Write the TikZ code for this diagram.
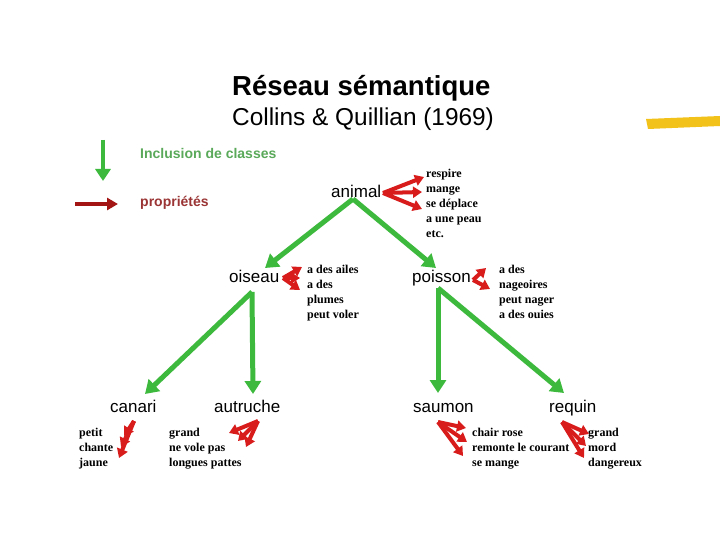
\documentclass[tikz,border=0pt]{standalone}
\usepackage{fontspec}
\setmainfont{Liberation Sans}
\newfontfamily\tnr{Liberation Serif}
\usetikzlibrary{arrows.meta}
\definecolor{grn}{HTML}{3DBA3D}
\definecolor{rd}{HTML}{D81C1C}
\definecolor{drd}{HTML}{A31414}
\definecolor{lgrn}{HTML}{5AA95A}
\definecolor{lrd}{HTML}{9B3535}
\definecolor{ylw}{HTML}{F3C21A}
\begin{document}
\begin{tikzpicture}[x=1pt,y=-1pt,
  garrow/.style={draw=grn, line width=5pt, -{Triangle[width=16pt,length=13pt]}},
  rarrow/.style={draw=rd, line width=4pt, -{Triangle[width=11pt,length=9pt]}},
  concept/.style={font=\fontsize{17}{17}\selectfont, inner sep=0pt, anchor=base west},
  prop/.style={font=\tnr\bfseries\fontsize{12}{12}\selectfont, inner sep=0pt, anchor=base west},
  legtext/.style={font=\bfseries\fontsize{14}{14}\selectfont, inner sep=0pt, anchor=west}]
\useasboundingbox[fill=white] (0,0) rectangle (720,540);

% title
\node[font=\bfseries\fontsize{27.5}{27.5}\selectfont, anchor=base west, inner sep=0pt] (title) at (232,96) {Réseau sémantique};
\node[font=\fontsize{24.4}{24.4}\selectfont, anchor=base west, inner sep=0pt] (subtitle) at (232,126) {Collins \& Quillian (1969)};

% yellow stroke
\fill[ylw] (646,119) -- (720,116) -- (720,126) -- (648,129) -- cycle;

% legend
\coordinate (lg1) at (103,140);
\coordinate (lg2) at (103,181);
\draw[draw=grn, line width=4.5pt, -{Triangle[width=15pt,length=12pt]}] (lg1) -- (lg2);
\node[legtext, text=lgrn] (inclusion) at (140,153) {Inclusion de classes};
\coordinate (lr1) at (75,204);
\coordinate (lr2) at (118,204);
\draw[draw=drd, line width=4pt, -{Triangle[width=12pt,length=11pt]}] (lr1) -- (lr2);
\node[legtext, text=lrd] (proprietes) at (140,203) {propriétés};

% concepts
\node[concept] (animal) at (331,197) {animal};
\node[concept] (oiseau) at (229,282) {oiseau};
\node[concept] (poisson) at (412,282) {poisson};
\node[concept] (canari) at (110,412) {canari};
\node[concept] (autruche) at (214,412) {autruche};
\node[concept] (saumon) at (413,412) {saumon};
\node[concept] (requin) at (549,412) {requin};

% inclusion connectors
\coordinate (animal-o) at (353,199);
\coordinate (oiseau-i) at (265,268);
\coordinate (poisson-i) at (436,268);
\coordinate (oiseau-o) at (252,292);
\coordinate (canari-i) at (145,394);
\coordinate (autruche-i) at (253,394);
\coordinate (poisson-o) at (438,288);
\coordinate (saumon-i) at (438,393);
\coordinate (requin-i) at (564,393);
\draw[garrow] (animal-o) -- (oiseau-i);
\draw[garrow] (animal-o) -- (poisson-i);
\draw[garrow] (oiseau-o) -- (canari-i);
\draw[garrow] (oiseau-o) -- (autruche-i);
\draw[garrow] (poisson-o) -- (saumon-i);
\draw[garrow] (poisson-o) -- (requin-i);

% property lists
\foreach \t [count=\i] in {respire,mange,se déplace,a une peau,etc.}
  \node[prop] (pa\i) at (426,{178+14.8*(\i-1)}) {\t};
\foreach \t [count=\i] in {a des ailes,a des,plumes,peut voler}
  \node[prop] (po\i) at (307,{273.5+15*(\i-1)}) {\t};
\foreach \t [count=\i] in {a des,nageoires,peut nager,a des ouies}
  \node[prop] (pp\i) at (499,{273.5+15*(\i-1)}) {\t};
\foreach \t [count=\i] in {petit,chante,jaune}
  \node[prop] (pc\i) at (79,{436.5+15*(\i-1)}) {\t};
\foreach \t [count=\i] in {grand,ne vole pas,longues pattes}
  \node[prop] (pu\i) at (169,{436.5+15*(\i-1)}) {\t};
\foreach \t [count=\i] in {chair rose,remonte le courant,se mange}
  \node[prop] (ps\i) at (472,{436.5+15*(\i-1)}) {\t};
\foreach \t [count=\i] in {grand,mord,dangereux}
  \node[prop] (pr\i) at (588,{436.5+15*(\i-1)}) {\t};

% property connectors
\coordinate (animal-p) at (383,193);
\coordinate (aa1) at (424,177);
\coordinate (aa2) at (422,192);
\coordinate (aa3) at (422,209);
\foreach \k in {1,2,3} \draw[rarrow] (animal-p) -- (aa\k);

\coordinate (oiseau-p) at (283,278);
\coordinate (oa1) at (302,267);
\coordinate (oa2) at (300,278);
\coordinate (oa3) at (300,290);
\foreach \k in {1,2,3} \draw[rarrow] (oiseau-p) -- (oa\k);

\coordinate (poisson-p) at (473,280);
\coordinate (pa-a) at (486,268);
\coordinate (pa-b) at (490,289);
\draw[rarrow] (poisson-p) -- (pa-a);
\draw[rarrow] (poisson-p) -- (pa-b);

\coordinate (canari-p) at (134,421);
\coordinate (ca1) at (124,436);
\coordinate (ca2) at (121,447);
\coordinate (ca3) at (119,458);
\foreach \k in {1,2,3} \draw[rarrow] (canari-p) -- (ca\k);

\coordinate (autruche-p) at (258,421);
\coordinate (ua1) at (229,433);
\coordinate (ua2) at (238,441);
\coordinate (ua3) at (246,447);
\foreach \k in {1,2,3} \draw[rarrow] (autruche-p) -- (ua\k);

\coordinate (saumon-p) at (438,422);
\coordinate (sa1) at (466,428);
\coordinate (sa2) at (467,442);
\coordinate (sa3) at (463,456);
\foreach \k in {1,2,3} \draw[rarrow] (saumon-p) -- (sa\k);

\coordinate (requin-p) at (562,422);
\coordinate (ra1) at (589,434);
\coordinate (ra2) at (586,446);
\coordinate (ra3) at (584,458);
\foreach \k in {1,2,3} \draw[rarrow] (requin-p) -- (ra\k);
\end{tikzpicture}
\end{document}
